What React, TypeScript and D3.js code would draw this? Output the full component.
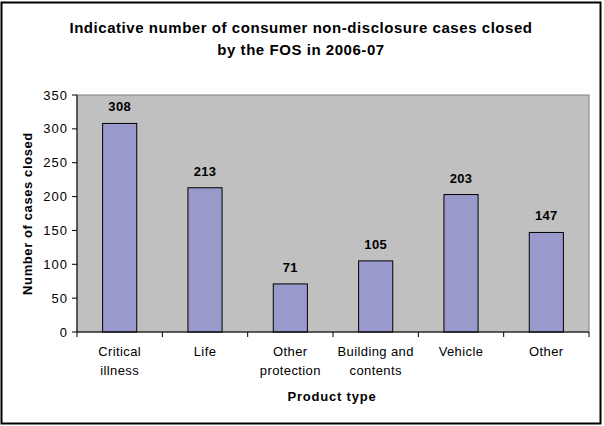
import React from "react";
import * as d3 from "d3";

const categories: string[][] = [
  ["Critical", "illness"],
  ["Life"],
  ["Other", "protection"],
  ["Building and", "contents"],
  ["Vehicle"],
  ["Other"],
];
const values: number[] = [308, 213, 71, 105, 203, 147];
const yTicks: number[] = [0, 50, 100, 150, 200, 250, 300, 350];
const titleLines: string[] = [
  "Indicative number of consumer non-disclosure cases closed",
  "by the FOS in 2006-07",
];
const yTitle = "Number of cases closed";
const xTitle = "Product type";

const W = 604;
const H = 426;
const plot = { left: 77, right: 589, top: 95, bottom: 332 };
const font = "Arial, 'Liberation Sans', sans-serif";

export default function App() {
  const idx = categories.map((_, i) => String(i));
  const x = d3
    .scaleBand<string>()
    .domain(idx)
    .range([plot.left, plot.right])
    .paddingInner(0)
    .paddingOuter(0);
  const bw = x.bandwidth();
  const barW = bw / 2.5;
  const y = d3.scaleLinear().domain([0, 350]).range([plot.bottom, plot.top]);

  return (
    <svg
      width={W}
      height={H}
      style={{ position: "absolute", left: 0, top: 0, background: "#fff" }}
      fontFamily={font}
    >
      <rect x={0} y={0} width={W} height={H} fill="#fff" />
      <rect x={1.5} y={2.5} width={599} height={421} fill="none" stroke="#000" strokeWidth={2} />
      {titleLines.map((t, i) => (
        <text
          key={i}
          x={301}
          y={33 + i * 22}
          textAnchor="middle"
          fontSize={15}
          fontWeight="bold"
          letterSpacing={0.55}
          fill="#000"
        >
          {t}
        </text>
      ))}
      <rect
        x={plot.left}
        y={plot.top}
        width={plot.right - plot.left}
        height={plot.bottom - plot.top}
        fill="#C0C0C0"
        stroke="#808080"
        strokeWidth={1}
      />
      {values.map((v, i) => {
        const cx = (x(String(i)) as number) + bw / 2;
        return (
          <g key={i}>
            <rect
              x={cx - barW / 2}
              y={y(v)}
              width={barW}
              height={plot.bottom - y(v)}
              fill="#9999CC"
              stroke="#000"
              strokeWidth={1}
            />
            <text
              x={cx}
              y={y(v) - 12}
              textAnchor="middle"
              fontSize={13}
              fontWeight="bold"
              letterSpacing={0.3}
              fill="#000"
            >
              {v}
            </text>
          </g>
        );
      })}
      {/* y axis */}
      <line x1={plot.left} x2={plot.left} y1={plot.top} y2={plot.bottom} stroke="#000" />
      {yTicks.map((t) => (
        <g key={t}>
          <line x1={plot.left - 5} x2={plot.left} y1={y(t)} y2={y(t)} stroke="#000" />
          <text
            x={plot.left - 9}
            y={y(t) + 4.5}
            textAnchor="end"
            fontSize={13}
            letterSpacing={1}
            fill="#000"
          >
            {t}
          </text>
        </g>
      ))}
      {/* x axis */}
      <line x1={plot.left} x2={plot.right} y1={plot.bottom} y2={plot.bottom} stroke="#000" />
      {idx.concat(["end"]).map((k, i) => {
        const xx = k === "end" ? plot.right : (x(k) as number);
        return (
          <line key={i} x1={xx} x2={xx} y1={plot.bottom} y2={plot.bottom + 5} stroke="#000" />
        );
      })}
      {categories.map((lines, i) => {
        const cx = (x(String(i)) as number) + bw / 2;
        return (
          <text key={i} x={cx} textAnchor="middle" fontSize={13} letterSpacing={0.4} fill="#000">
            {lines.map((l, j) => (
              <tspan key={j} x={cx} y={356 + j * 19}>
                {l}
              </tspan>
            ))}
          </text>
        );
      })}
      <text
        x={332}
        y={401}
        textAnchor="middle"
        fontSize={13}
        fontWeight="bold"
        letterSpacing={0.8}
        fill="#000"
      >
        {xTitle}
      </text>
      <text
        transform={`translate(32, ${(plot.top + plot.bottom) / 2}) rotate(-90)`}
        textAnchor="middle"
        fontSize={13}
        fontWeight="bold"
        letterSpacing={0.6}
        fill="#000"
      >
        {yTitle}
      </text>
    </svg>
  );
}
